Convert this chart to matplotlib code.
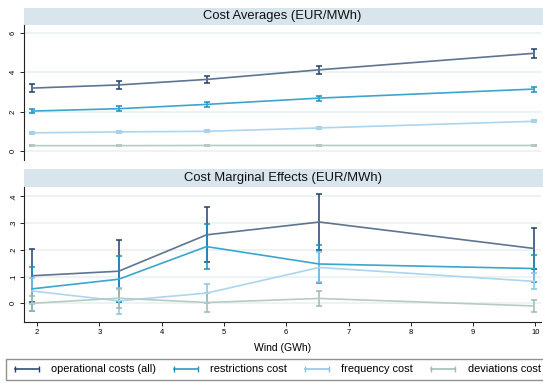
import matplotlib
matplotlib.use("Agg")
import matplotlib.pyplot as plt
from matplotlib.patches import Rectangle
from matplotlib.lines import Line2D

plt.rcParams['font.family'] = ['Liberation Sans', 'DejaVu Sans']

# wind bins (GWh)
wind = [1.92, 3.31, 4.72, 6.53, 9.98]

# cost averages (EUR/MWh)
avg_ops = [3.20, 3.36, 3.64, 4.13, 4.97]
avg_ops_err = [0.20, 0.20, 0.20, 0.20, 0.22]
avg_restr = [2.03, 2.15, 2.37, 2.69, 3.15]
avg_restr_err = [0.12, 0.12, 0.13, 0.13, 0.13]
avg_freq = [0.92, 0.97, 1.00, 1.17, 1.51]
avg_freq_err = [0.06, 0.06, 0.06, 0.06, 0.06]
avg_dev = [0.27, 0.27, 0.28, 0.28, 0.28]
avg_dev_err = [0.02, 0.02, 0.02, 0.02, 0.02]

# marginal effects (EUR/MWh)
me_ops = [0.103, 0.120, 0.256, 0.304, 0.205]
me_ops_err = [0.100, 0.115, 0.103, 0.104, 0.077]
me_restr = [0.054, 0.090, 0.212, 0.147, 0.130]
me_restr_err = [0.083, 0.086, 0.083, 0.072, 0.052]
me_freq = [0.046, 0.009, 0.038, 0.134, 0.082]
me_freq_err = [0.047, 0.048, 0.036, 0.056, 0.030]
me_dev = [0.000, 0.019, 0.003, 0.018, -0.010]
me_dev_err = [0.029, 0.036, 0.035, 0.028, 0.023]

labels = ['operational costs (all)', 'restrictions cost', 'frequency cost', 'deviations cost']
line_cols = ['#5d7590', '#3aa6cf', '#acd5f0', '#b7cbc5']
err_cols = ['#1f4170', '#1c8fc0', '#86c3ea', '#9db9b2']

W, H = 543, 384
fig = plt.figure(figsize=(W / 100, H / 100), dpi=100)


def px_axes(left, top, right, bottom):
    return fig.add_axes([left / W, 1 - bottom / H, (right - left) / W, (bottom - top) / H])


def style(ax, title, band_px, ht):
    for s in ['top', 'right']:
        ax.spines[s].set_visible(False)
    ax.spines['left'].set_color('#222222')
    ax.spines['left'].set_linewidth(0.8)
    ax.yaxis.grid(True, color='#eaf1f1', linewidth=1.2)
    ax.set_axisbelow(True)
    ax.tick_params(axis='y', labelsize=5.5, length=3, width=0.6, pad=2, labelrotation=90)
    for t in ax.get_yticklabels():
        t.set_va('center')
    ext = (W - 24) / (541 - 24)
    ax.add_patch(Rectangle((0, 1), ext, band_px / ht, transform=ax.transAxes,
                           facecolor='#d9e5ec', edgecolor='none', clip_on=False))
    ax.text(0.5, 1 + band_px / ht / 2, title, transform=ax.transAxes, ha='center',
            va='center', fontsize=9.4, color='#111111')


def draw(ax, series):
    for (y, e), lc, ec in zip(series, line_cols, err_cols):
        ax.errorbar(wind, y, yerr=e, fmt='none', ecolor=ec, elinewidth=1.1,
                    capsize=2.5, capthick=1.1, zorder=2)
        ax.plot(wind, y, color=lc, linewidth=1.2, zorder=3)


ax1 = px_axes(24, 25, 541, 160)
draw(ax1, [(avg_ops, avg_ops_err), (avg_restr, avg_restr_err),
           (avg_freq, avg_freq_err), (avg_dev, avg_dev_err)])
ax1.set_xlim(1.79, 10.09)
ax1.set_ylim(-0.46, 6.41)
ax1.set_yticks([0, 2, 4, 6])
ax1.set_yticklabels(['0', '2', '4', '6'])
ax1.spines['bottom'].set_visible(False)
ax1.set_xticks([])
style(ax1, 'Cost Averages (EUR/MWh)', 17, 135)

ax2 = px_axes(24, 187, 541, 322)
draw(ax2, [(me_ops, me_ops_err), (me_restr, me_restr_err),
           (me_freq, me_freq_err), (me_dev, me_dev_err)])
ax2.set_xlim(1.79, 10.09)
ax2.set_ylim(-0.07, 0.435)
ax2.set_yticks([0, 0.1, 0.2, 0.3, 0.4])
ax2.set_yticklabels(['0', '.1', '.2', '.3', '.4'])
ax2.set_xticks(range(2, 11))
ax2.tick_params(axis='x', labelsize=5.5, length=3, width=0.6, pad=2)
ax2.spines['bottom'].set_color('#222222')
ax2.spines['bottom'].set_linewidth(0.8)
ax2.set_xlabel('Wind (GWh)', fontsize=7.5, labelpad=5)
style(ax2, 'Cost Marginal Effects (EUR/MWh)', 18, 135)

handles = [Line2D([], [], color=c, marker='|', markersize=4, linewidth=1.1) for c in err_cols]
leg = fig.legend(handles, labels, loc='upper left', ncol=4, numpoints=2,
                 bbox_to_anchor=(6 / W, 0, 1.0, (H - 359) / H),
                 fontsize=7.9, frameon=True, fancybox=False, handlelength=2.8,
                 borderaxespad=0, handletextpad=0.8, columnspacing=1.35,
                 borderpad=0.5)
leg.get_frame().set_edgecolor('#777777')
leg.get_frame().set_linewidth(1.0)

fig.savefig('out.png', dpi=100)
